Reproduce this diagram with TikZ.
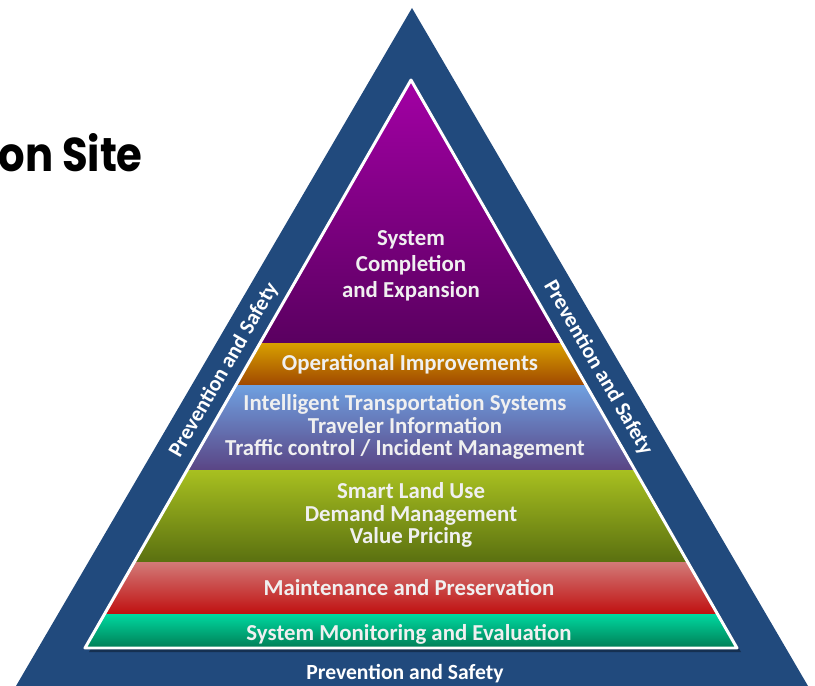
\documentclass[tikz,border=0pt]{standalone}
\usepackage{fontspec}
\setmainfont{Carlito}
\newfontfamily\headfont{Poppins}
\definecolor{frameblue}{HTML}{214A7D}
\begin{document}
\begin{tikzpicture}[x=0.02cm,y=-0.02cm,
    layer/.style={font=\bfseries\fontsize{13}{13}\selectfont, text=white!94!black, align=center},
    side/.style={font=\bfseries\fontsize{12.3}{13}\selectfont, text=white}]
  \useasboundingbox (0,0) rectangle (815,686);
  % blue frame
  \fill[frameblue] (412,8) -- (808,686) -- (16,686) -- cycle;
  \fill[black, opacity=0.35] (415,84) -- (741,652) -- (89,652) -- cycle;
  % the layers
  \begin{scope}
    \clip (411,80) -- (737,648) -- (85,648) -- cycle;
    \shade[top color={rgb,255:red,163;green,0;blue,165}, bottom color={rgb,255:red,90;green,0;blue,96}] (80,78) rectangle (740,343);
    \shade[top color={rgb,255:red,216;green,160;blue,0}, bottom color={rgb,255:red,160;green,72;blue,0}] (80,343) rectangle (740,385);
    \shade[top color={rgb,255:red,111;green,160;blue,224}, bottom color={rgb,255:red,90;green,69;blue,133}] (80,385) rectangle (740,470);
    \shade[top color={rgb,255:red,168;green,192;blue,32}, bottom color={rgb,255:red,90;green,112;blue,16}] (80,470) rectangle (740,562);
    \shade[top color={rgb,255:red,210;green,122;blue,120}, bottom color={rgb,255:red,192;green,16;blue,16}] (80,562) rectangle (740,614);
    \shade[top color={rgb,255:red,0;green,216;blue,160}, bottom color={rgb,255:red,0;green,120;blue,80}] (80,614) rectangle (740,650);
  \end{scope}
  \draw[white, line width=1.7pt, line join=round] (411,80) -- (737,648) -- (85,648) -- cycle;
  % layer texts
  \node[layer, font=\bfseries\fontsize{13}{14.7}\selectfont] (completion) at (411,266) {System\\Completion\\and Expansion};
  \node[layer] (operational) at (410,364) {Operational Improvements};
  \node[layer] (its) at (405,427) {Intelligent Transportation Systems\\Traveler Information\\Traffic control / Incident Management};
  \node[layer] (landuse) at (411,515) {Smart Land Use\\Demand Management\\Value Pricing};
  \node[layer] (maintenance) at (409,588) {Maintenance and Preservation};
  \node[layer] (monitoring) at (409,634) {System Monitoring and Evaluation};
  % frame texts
  \node[side, rotate=60] (leftsafety) at (224,370) {Prevention and Safety};
  \node[side, rotate=-60] (rightsafety) at (598,368) {Prevention and Safety};
  \node[side] (basesafety) at (405,674) {Prevention and Safety};
  \node[anchor=west, xscale=0.88, font=\headfont\bfseries\fontsize{27}{30}\selectfont] (title) at (-7,153) {on Site};
\end{tikzpicture}
\end{document}
